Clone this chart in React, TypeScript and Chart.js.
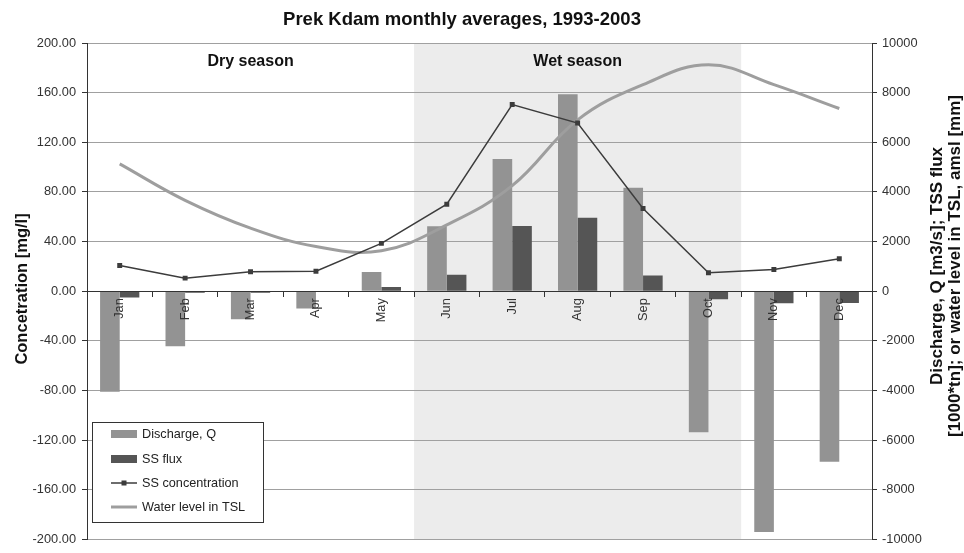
import React, { useEffect, useRef } from 'react';
import { Chart, registerables } from 'chart.js';

Chart.register(...registerables);

// ---- data ----
const MONTHS = ['Jan', 'Feb', 'Mar', 'Apr', 'May', 'Jun', 'Jul', 'Aug', 'Sep', 'Oct', 'Nov', 'Dec'];
const DISCHARGE = [-4050, -2220, -1130, -700, 770, 2620, 5330, 7930, 4170, -5690, -9700, -6870];
const SS_FLUX = [-260, -60, -60, -30, 170, 660, 2630, 2960, 630, -330, -490, -480];
const SS_CONC = [20.6, 10.5, 15.6, 16.1, 38.5, 70.1, 150.4, 135.5, 66.6, 14.8, 17.4, 26.2];
const WATER_LEVEL = [5130, 3660, 2540, 1800, 1630, 2670, 4250, 6900, 8320, 9120, 8320, 7360];

const SERIES_NAMES = ['Discharge, Q', 'SS flux', 'SS concentration', 'Water level in TSL'];
const LEFT_RANGE = [-200, 200];
const LEFT_STEP = 40;
const RIGHT_RANGE = [-10000, 10000];
const RIGHT_STEP = 2000;
const SEASONS = [
  { name: 'Dry season', first: 'Jan', last: 'May', shaded: false },
  { name: 'Wet season', first: 'Jun', last: 'Oct', shaded: true },
];
const TITLE = 'Prek Kdam monthly averages, 1993-2003';
const LEFT_TITLE = 'Concetration [mg/l]';
const RIGHT_TITLE = ['Discharge, Q [m3/s]; TSS flux', '[1000*tn]; or water level in TSL, amsl [mm]'];

const FONT = "'Liberation Sans', Arial, sans-serif";
const C_DISCHARGE = '#939393';
const C_FLUX = '#555555';
const C_CONC = '#3c3c3c';
const C_WATER = '#9e9e9e';
const C_AXIS = '#333333';
const C_TEXT = '#333333';

function seasonSpan(chart: any, first: string, last: string) {
  const x = chart.scales.x;
  const i0 = MONTHS.indexOf(first);
  const i1 = MONTHS.indexOf(last);
  const half = (x.getPixelForValue(1) - x.getPixelForValue(0)) / 2;
  return [x.getPixelForValue(i0) - half, x.getPixelForValue(i1) + half];
}

const decor = {
  id: 'decor',
  beforeDraw(chart: any) {
    const { ctx, chartArea: a } = chart;
    ctx.save();
    ctx.fillStyle = '#ffffff';
    ctx.fillRect(0, 0, chart.width, chart.height);
    for (const s of SEASONS) {
      if (!s.shaded) continue;
      const [xa, xb] = seasonSpan(chart, s.first, s.last);
      ctx.fillStyle = '#ececec';
      ctx.fillRect(xa, a.top, xb - xa, a.bottom - a.top);
    }
    ctx.restore();
  },
  afterDraw(chart: any) {
    const { ctx } = chart;
    ctx.save();
    // main title
    ctx.fillStyle = '#111';
    ctx.font = `bold 18.5px ${FONT}`;
    ctx.textAlign = 'center';
    ctx.textBaseline = 'alphabetic';
    ctx.fillText(TITLE, 462, 25);

    // season labels
    ctx.font = `bold 16px ${FONT}`;
    ctx.textBaseline = 'middle';
    for (const s of SEASONS) {
      const [xa, xb] = seasonSpan(chart, s.first, s.last);
      ctx.fillText(s.name, (xa + xb) / 2, 62);
    }

    // left axis title
    ctx.save();
    ctx.translate(22, 289);
    ctx.rotate(-Math.PI / 2);
    ctx.font = `bold 16.5px ${FONT}`;
    ctx.textAlign = 'center';
    ctx.textBaseline = 'middle';
    ctx.fillText(LEFT_TITLE, 0, 0);
    ctx.restore();

    // right axis title (reads bottom to top)
    ctx.save();
    ctx.translate(946, 266);
    ctx.rotate(-Math.PI / 2);
    ctx.font = `bold 17px ${FONT}`;
    ctx.textAlign = 'center';
    ctx.textBaseline = 'middle';
    ctx.fillText(RIGHT_TITLE[0], 0, -9);
    ctx.fillText(RIGHT_TITLE[1], 0, 9);
    ctx.restore();

    // legend
    const bx = 92.5, by = 422.5, bw = 171, bh = 100;
    ctx.fillStyle = '#ffffff';
    ctx.fillRect(bx, by, bw, bh);
    ctx.strokeStyle = C_AXIS;
    ctx.lineWidth = 1;
    ctx.strokeRect(bx, by, bw, bh);
    const rows = [434, 459, 483, 507];
    const sx0 = 111, sx1 = 137;
    const ds = chart.data.datasets;
    ds.forEach((d: any, i: number) => {
      const y = rows[i];
      if (d.type === 'line') {
        ctx.strokeStyle = d.borderColor;
        ctx.lineWidth = d.borderWidth;
        ctx.beginPath();
        ctx.moveTo(sx0, y);
        ctx.lineTo(sx1, y);
        ctx.stroke();
        if (d.pointRadius > 0) {
          ctx.fillStyle = d.borderColor;
          ctx.fillRect((sx0 + sx1) / 2 - 2.5, y - 2.5, 5, 5);
        }
      } else {
        ctx.fillStyle = d.backgroundColor;
        ctx.fillRect(sx0, y - 4, sx1 - sx0, 8);
      }
      ctx.fillStyle = '#222';
      ctx.font = `12.7px ${FONT}`;
      ctx.textAlign = 'left';
      ctx.textBaseline = 'middle';
      ctx.fillText(d.label, 142, y + 0.5);
    });
    ctx.restore();
  },
};

export default function App() {
  const ref = useRef<HTMLCanvasElement>(null);

  useEffect(() => {
    const tickFont = { family: FONT, size: 12.8 };
    const chart = new Chart(ref.current as HTMLCanvasElement, {
      type: 'bar',
      data: {
        labels: MONTHS,
        datasets: [
          {
            type: 'bar',
            label: SERIES_NAMES[0],
            data: DISCHARGE,
            yAxisID: 'y1',
            backgroundColor: C_DISCHARGE,
            borderWidth: 0,
            categoryPercentage: 0.6,
            barPercentage: 1,
            order: 2,
          },
          {
            type: 'bar',
            label: SERIES_NAMES[1],
            data: SS_FLUX,
            yAxisID: 'y1',
            backgroundColor: C_FLUX,
            borderWidth: 0,
            categoryPercentage: 0.6,
            barPercentage: 1,
            order: 3,
          },
          {
            type: 'line',
            label: SERIES_NAMES[2],
            data: SS_CONC,
            yAxisID: 'y',
            borderColor: C_CONC,
            backgroundColor: C_CONC,
            borderWidth: 1.5,
            pointStyle: 'rect',
            pointRadius: 3.5,
            pointBackgroundColor: C_CONC,
            pointBorderWidth: 0,
            tension: 0,
            order: 0,
          },
          {
            type: 'line',
            label: SERIES_NAMES[3],
            data: WATER_LEVEL,
            yAxisID: 'y1',
            borderColor: C_WATER,
            backgroundColor: C_WATER,
            borderWidth: 3,
            pointRadius: 0,
            tension: 0.4,
            order: 1,
          },
        ] as any,
      },
      options: {
        animation: false,
        responsive: false,
        devicePixelRatio: 1,
        layout: { padding: { top: 43, bottom: 9, left: 0, right: 0 } },
        plugins: {
          legend: { display: false },
          title: { display: false },
          tooltip: { enabled: false },
        },
        scales: {
          x: {
            type: 'category',
            position: { y: 0 } as any,
            offset: true,
            grid: {
              display: true,
              drawOnChartArea: false,
              drawTicks: true,
              tickLength: 5,
              tickColor: C_AXIS,
              offset: true,
              z: 1,
            },
            border: { display: true, color: C_AXIS, width: 1, z: 1 },
            ticks: {
              minRotation: 90,
              maxRotation: 90,
              autoSkip: false,
              padding: 2,
              color: C_TEXT,
              font: tickFont,
              z: 2,
            },
          },
          y: {
            position: 'left',
            min: LEFT_RANGE[0],
            max: LEFT_RANGE[1],
            ticks: {
              stepSize: LEFT_STEP,
              callback: (v: any) => Number(v).toFixed(2),
              color: C_TEXT,
              font: tickFont,
              padding: 6,
            },
            grid: { color: '#a0a0a0', lineWidth: 1, tickColor: C_AXIS, tickLength: 5 },
            border: { display: true, color: C_AXIS, width: 1 },
            afterFit: (s: any) => {
              s.width = 87;
            },
          },
          y1: {
            position: 'right',
            min: RIGHT_RANGE[0],
            max: RIGHT_RANGE[1],
            ticks: {
              stepSize: RIGHT_STEP,
              callback: (v: any) => String(v),
              color: C_TEXT,
              font: tickFont,
              padding: 5,
            },
            grid: { drawOnChartArea: false, tickColor: C_AXIS, tickLength: 5 },
            border: { display: true, color: C_AXIS, width: 1 },
            afterFit: (s: any) => {
              s.width = 92;
            },
          },
        } as any,
      },
      plugins: [decor],
    });
    return () => chart.destroy();
  }, []);

  return (
    <div style={{ position: 'absolute', left: 0, top: 0, width: 964, height: 553 }}>
      <canvas ref={ref} width={964} height={553} style={{ display: 'block', width: 964, height: 553 }} />
    </div>
  );
}
